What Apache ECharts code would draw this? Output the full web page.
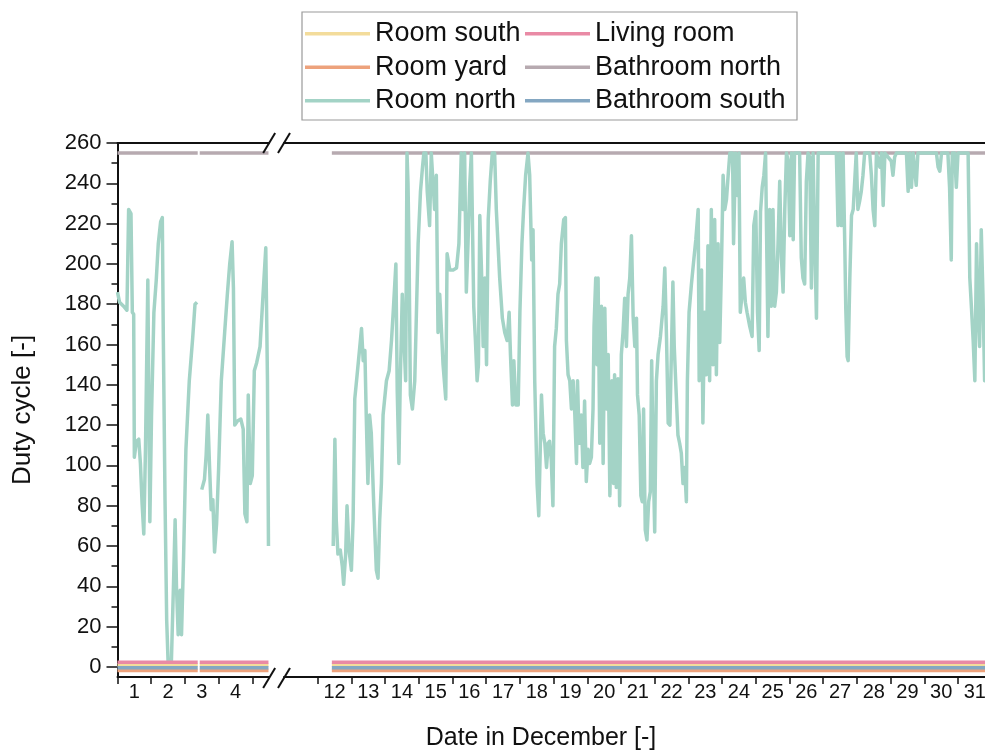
<!DOCTYPE html>
<html>
<head>
<meta charset="utf-8">
<script src="https://cdn.jsdelivr.net/npm/echarts@6/dist/echarts.min.js"></script>
<style>
  html, body { margin: 0; padding: 0; background: #ffffff; }
  #chart { width: 985px; height: 752px; }
</style>
</head>
<body>
<div id="chart"></div>
<script>
// ---- axis ticks and labels ----
const earlyTickDays = [1, 2, 3, 4, 5];
const earlyLabelDays = [1, 2, 3, 4];
const lateTickDays = [12, 13, 14, 15, 16, 17, 18, 19, 20, 21, 22, 23, 24, 25, 26, 27, 28, 29, 30, 31];
const lateLabelDays = [12, 13, 14, 15, 16, 17, 18, 19, 20, 21, 22, 23, 24, 25, 26, 27, 28, 29, 30, 31];
const dutyTicks = [0, 20, 40, 60, 80, 100, 120, 140, 160, 180, 200, 220, 240, 260];
const dutyMinorTicks = [10, 30, 50, 70, 90, 110, 130, 150, 170, 190, 210, 230, 250];

// ---- channel names and constant levels ----
const roomNames = ['Room south', 'Room yard', 'Room north', 'Living room', 'Bathroom north', 'Bathroom south'];
const roomColors = ['#f3dc9b', '#eda27c', '#a3d3c6', '#e98aa5', '#b7aab0', '#84a7c2'];
const constantRooms = ['Room south', 'Room yard', 'Living room', 'Bathroom north', 'Bathroom south'];
const constantLevels = [0.9, -1.8, 2.3, 255, -0.4];
// logged periods (day of December): early block has a short dropout
const earlySpans = [[1.0, 3.38], [3.44, 5.48]];
const lateSpans = [[12.42, 31.95]];

// ---- Room north duty cycle [day, value] ----
const roomNorthEarly = [
  [1.00,186],[1.06,181],[1.18,179],[1.28,177],[1.33,227],[1.40,225],[1.44,176],[1.48,175],
  [1.50,104],[1.56,112],[1.63,113],[1.68,101],[1.73,81],[1.78,66],[1.83,108],[1.90,192],
  [1.96,72],[2.01,125],[2.08,176],[2.15,192],[2.21,210],[2.28,221],[2.33,223],[2.36,163],
  [2.41,83],[2.46,23],[2.50,3],[2.60,3],[2.66,40],[2.71,73],[2.75,40],[2.80,16],[2.86,38],
  [2.90,16],[2.96,54],[3.03,108],[3.13,142],[3.23,163],[3.30,180],[3.36,181],[3.43,'-'],
  [3.50,88],[3.58,93],[3.63,105],[3.68,125],[3.73,100],[3.78,78],[3.83,83],[3.88,57],
  [3.94,71],[4.00,98],[4.08,142],[4.18,166],[4.26,185],[4.33,200],[4.40,211],[4.44,188],
  [4.48,120],[4.56,122],[4.66,123],[4.73,118],[4.78,76],[4.84,72],[4.88,135],[4.94,91],
  [5.00,95],[5.06,147],[5.13,151],[5.23,159],[5.33,188],[5.40,208],[5.45,142],[5.48,60]
];
const roomNorthLate = [
  [12.46,60],[12.51,113],[12.55,73],[12.60,56],[12.67,58],[12.73,50],[12.77,41],[12.83,56],
  [12.87,80],[12.93,58],[13.00,48],[13.05,73],[13.10,133],[13.17,145],[13.25,159],[13.30,168],
  [13.35,152],[13.40,157],[13.44,125],[13.49,91],[13.54,125],[13.59,116],[13.66,82],[13.74,48],
  [13.79,44],[13.84,73],[13.89,91],[13.94,125],[14.04,142],[14.12,147],[14.19,162],[14.24,176],
  [14.32,200],[14.36,137],[14.41,101],[14.45,142],[14.51,185],[14.55,166],[14.61,142],[14.65,255],
  [14.68,240],[14.71,207],[14.75,135],[14.81,128],[14.88,142],[14.93,176],[14.98,210],[15.05,236],
  [15.11,248],[15.15,255],[15.21,255],[15.25,236],[15.32,219],[15.37,255],[15.42,255],[15.47,227],
  [15.52,244],[15.57,166],[15.62,185],[15.67,168],[15.72,150],[15.80,133],[15.84,205],[15.92,197],
  [16.02,197],[16.12,198],[16.19,210],[16.26,255],[16.31,227],[16.36,255],[16.41,186],[16.46,210],
  [16.51,239],[16.56,255],[16.61,255],[16.63,179],[16.68,162],[16.73,142],[16.77,150],[16.81,224],
  [16.86,197],[16.91,159],[16.96,193],[17.01,150],[17.06,222],[17.12,241],[17.18,255],[17.25,255],
  [17.30,227],[17.35,210],[17.40,193],[17.48,173],[17.55,166],[17.62,162],[17.68,176],[17.72,155],
  [17.78,130],[17.82,152],[17.88,130],[17.95,130],[18.00,176],[18.06,210],[18.11,227],[18.17,244],
  [18.24,255],[18.29,244],[18.35,202],[18.39,217],[18.44,142],[18.51,91],[18.56,75],
  [18.64,135],[18.69,116],[18.74,111],[18.79,99],[18.84,111],[18.88,112],[18.93,103],[18.98,80],
  [19.03,159],[19.08,168],[19.13,185],[19.18,190],[19.23,210],[19.30,222],[19.35,223],[19.38,162],
  [19.43,145],[19.48,142],[19.53,128],[19.58,142],[19.63,125],[19.68,101],[19.71,142],[19.76,111],
  [19.82,125],[19.87,99],[19.92,132],[19.97,92],[20.02,108],[20.07,101],[20.12,104],[20.17,128],
  [20.20,169],[20.25,193],[20.29,150],[20.32,193],[20.37,111],[20.42,179],[20.47,101],[20.52,178],
  [20.57,128],[20.62,155],[20.67,85],[20.73,142],[20.78,91],[20.81,145],[20.86,89],[20.91,143],
  [20.96,80],[21.01,155],[21.06,166],[21.11,183],[21.16,159],[21.21,185],[21.26,193],[21.31,214],
  [21.36,174],[21.41,159],[21.46,173],[21.49,135],[21.54,125],[21.59,85],[21.63,82],[21.67,128],
  [21.72,68],[21.77,63],[21.82,82],[21.87,87],[21.91,152],[21.95,108],[22.00,67],[22.05,142],
  [22.10,155],[22.17,164],[22.25,179],[22.30,198],[22.35,164],[22.40,121],[22.45,120],[22.49,120],
  [22.54,191],[22.58,159],[22.64,135],[22.69,115],[22.74,111],[22.79,106],[22.84,91],[22.89,99],
  [22.94,82],[22.97,142],[23.02,176],[23.09,190],[23.16,202],[23.22,212],[23.29,227],[23.32,142],
  [23.39,197],[23.43,121],[23.48,176],[23.53,145],[23.58,209],[23.63,142],[23.68,227],[23.73,150],
  [23.78,222],[23.83,145],[23.88,210],[23.93,161],[23.98,198],[24.03,244],[24.08,227],[24.13,232],
  [24.18,244],[24.23,255],[24.31,255],[24.34,210],[24.40,255],[24.45,234],[24.50,255],[24.54,176],
  [24.64,193],[24.69,181],[24.74,176],[24.82,169],[24.89,164],[24.94,219],[25.00,226],[25.05,176],
  [25.10,157],[25.14,226],[25.19,238],[25.24,244],[25.29,255],
  [25.31,227],[25.36,164],[25.41,227],[25.46,179],[25.51,227],[25.56,179],[25.61,186],[25.66,210],
  [25.71,241],[25.76,203],[25.81,186],[25.86,227],[25.91,255],[25.96,251],[26.01,214],[26.06,255],
  [26.11,212],[26.15,255],[26.30,255],[26.35,203],[26.40,193],[26.45,190],[26.50,241],[26.55,255],
  [26.60,253],[26.65,188],[26.70,255],[26.75,210],[26.80,173],[26.85,255],[27.39,255],[27.44,219],
  [27.49,255],[27.54,219],[27.59,255],[27.64,210],[27.67,178],[27.71,154],[27.74,152],[27.79,193],
  [27.84,224],[27.89,227],[27.94,227],[27.98,255],[28.03,227],[28.08,231],[28.13,236],[28.18,244],
  [28.23,255],[28.38,255],[28.43,244],[28.48,227],[28.53,219],[28.58,255],[28.63,255],[28.68,248],
  [28.73,255],[28.78,229],[28.83,255],[29.02,251],[29.07,244],[29.12,253],[29.17,255],[29.47,255],
  [29.52,236],[29.57,255],[29.62,238],[29.67,255],[29.76,239],[29.81,255],[30.36,255],[30.41,248],
  [30.46,246],[30.51,255],[30.70,255],[30.75,238],[30.80,202],[30.83,255],[30.90,255],[30.95,238],
  [31.00,255],[31.30,255],[31.35,193],[31.40,178],[31.45,162],[31.50,142],[31.55,210],[31.60,176],
  [31.64,159],[31.69,217],[31.74,185],[31.79,142],[31.85,160],[31.90,150]
];

// ---- layout ----
const FONT = '"Liberation Sans", Arial, sans-serif';
const PX_PER_DAY = 33.7;
const PLOT_TOP = 143;
const PLOT_BOTTOM = 677;
const EARLY_LEFT = 117.5;
const LATE_LEFT = 284;
const earlyRange = [1, 5.5];
const lateRange = [11, 31.9];
const dutyRange = [-5, 260];

const chart = echarts.init(document.getElementById('chart'), null, { renderer: 'canvas', width: 985, height: 752 });

function flatData(level, spans) {
  const pts = [];
  spans.forEach((s, i) => {
    if (i > 0) pts.push([(spans[i - 1][1] + s[0]) / 2, '-']);
    pts.push([s[0], level], [s[1], level]);
  });
  return pts;
}

const axisLineStyle = { color: '#111', width: 2 };

function bottomAxis(gridIndex, range, ticks, labels) {
  return {
    type: 'value', gridIndex, position: 'bottom', min: range[0], max: range[1],
    axisLine: { show: true, onZero: false, lineStyle: axisLineStyle },
    axisTick: { show: true, customValues: ticks, length: 7, lineStyle: { color: '#111', width: 1.5 } },
    axisLabel: {
      show: true, customValues: labels.map(d => d + 0.5), formatter: v => String(Math.floor(v)),
      color: '#111', fontSize: 20, fontFamily: FONT, margin: 5
    },
    splitLine: { show: false }
  };
}
function topAxis(gridIndex, range) {
  return {
    type: 'value', gridIndex, position: 'top', min: range[0], max: range[1],
    axisLine: { show: true, onZero: false, lineStyle: axisLineStyle },
    axisTick: { show: false }, axisLabel: { show: false }, splitLine: { show: false }
  };
}

const grids = [
  { left: EARLY_LEFT, top: PLOT_TOP, width: (earlyRange[1] - earlyRange[0]) * PX_PER_DAY, height: PLOT_BOTTOM - PLOT_TOP, outerBoundsMode: 'none', containLabel: false },
  { left: LATE_LEFT, top: PLOT_TOP, width: (lateRange[1] - lateRange[0]) * PX_PER_DAY, height: PLOT_BOTTOM - PLOT_TOP, outerBoundsMode: 'none', containLabel: false }
];

const xAxes = [
  bottomAxis(0, earlyRange, earlyTickDays, earlyLabelDays),
  topAxis(0, earlyRange),
  bottomAxis(1, lateRange, lateTickDays, lateLabelDays),
  topAxis(1, lateRange)
];

const yAxes = [
  {
    type: 'value', gridIndex: 0, position: 'left', min: dutyRange[0], max: dutyRange[1],
    name: 'Duty cycle [-]', nameLocation: 'middle', nameGap: 82, nameRotate: 90,
    nameTextStyle: { color: '#111', fontSize: 26, fontFamily: FONT },
    axisLine: { show: true, lineStyle: axisLineStyle },
    axisTick: { show: true, customValues: dutyTicks, length: 11, lineStyle: { color: '#111', width: 1.5 } },
    axisLabel: { show: true, customValues: dutyTicks, color: '#111', fontSize: 22, fontFamily: FONT, margin: 16 },
    splitLine: { show: false }
  },
  {
    type: 'value', gridIndex: 0, position: 'left', min: dutyRange[0], max: dutyRange[1],
    axisLine: { show: false },
    axisTick: { show: true, customValues: dutyMinorTicks, length: 6, lineStyle: { color: '#111', width: 1.5 } },
    axisLabel: { show: false }, splitLine: { show: false }
  },
  {
    type: 'value', gridIndex: 1, position: 'left', min: dutyRange[0], max: dutyRange[1],
    show: false
  }
];

const series = [];
function colorOf(name) { return roomColors[roomNames.indexOf(name)]; }
function addLine(name, data, gridPart, z) {
  series.push({
    name, type: 'line', data,
    xAxisIndex: gridPart === 0 ? 0 : 2, yAxisIndex: gridPart === 0 ? 0 : 2,
    showSymbol: false, symbol: 'none', connectNulls: false, animation: false,
    color: colorOf(name),
    lineStyle: { width: 3.5, color: colorOf(name), join: 'round' },
    z
  });
}
constantRooms.forEach((name, i) => {
  const z = name === 'Bathroom north' ? 2 : 4;
  addLine(name, flatData(constantLevels[i], earlySpans), 0, z);
  addLine(name, flatData(constantLevels[i], lateSpans), 1, z);
});
addLine('Room north', roomNorthEarly, 0, 3);
addLine('Room north', roomNorthLate, 1, 3);

const legendText = { color: '#111', fontSize: 27, fontFamily: FONT, lineHeight: 33.5 };
const legendBase = {
  orient: 'vertical', top: 17, icon: 'rect', itemWidth: 65, itemHeight: 3.5, itemGap: 0,
  selectedMode: false, textStyle: legendText, padding: 0
};
const legends = [
  Object.assign({}, legendBase, { data: roomNames.slice(0, 3), left: 305 }),
  Object.assign({}, legendBase, { data: roomNames.slice(3), left: 525 })
];

// axis-break marks at the end of the early block and the start of the late block
const earlyEnd = EARLY_LEFT + (earlyRange[1] - earlyRange[0]) * PX_PER_DAY;
function slash(cx, cy) {
  return { type: 'line', shape: { x1: cx - 6, y1: cy + 10, x2: cx + 6, y2: cy - 10 }, style: { stroke: '#111', lineWidth: 2 }, z: 10 };
}

const graphics = [
  { type: 'rect', shape: { x: 302, y: 12, width: 495, height: 108 }, style: { fill: 'none', stroke: '#9a9a9a', lineWidth: 1.2 }, z: 10 },
  slash(earlyEnd, PLOT_TOP), slash(LATE_LEFT, PLOT_TOP),
  slash(earlyEnd, PLOT_BOTTOM + 1), slash(LATE_LEFT, PLOT_BOTTOM + 1),
  {
    type: 'text', x: 541, y: 738, z: 10,
    style: { text: 'Date in December [-]', fill: '#111', font: '25px ' + FONT, textAlign: 'center', textVerticalAlign: 'middle' }
  }
];

chart.setOption({
  animation: false,
  backgroundColor: '#ffffff',
  grid: grids,
  xAxis: xAxes,
  yAxis: yAxes,
  legend: legends,
  series,
  graphic: graphics
});
</script>
</body>
</html>
